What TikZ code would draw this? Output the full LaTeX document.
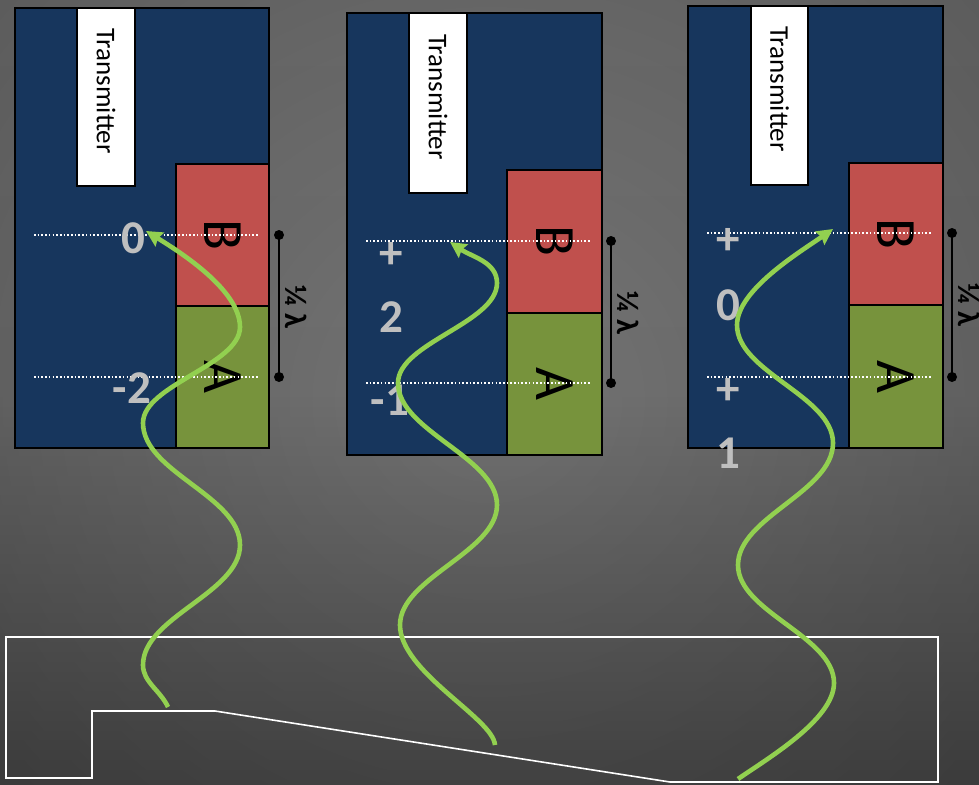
\documentclass[tikz,border=0pt]{standalone}
\usepackage{fontspec}
\setmainfont{Carlito}
\usetikzlibrary{arrows.meta,fadings}
\definecolor{navy}{HTML}{17365D}
\definecolor{boxred}{HTML}{C0504D}
\definecolor{boxgreen}{HTML}{77933C}
\definecolor{wavegreen}{HTML}{92D050}
\definecolor{phasegray}{HTML}{BFBFBF}
\definecolor{bgtop}{HTML}{777777}
\definecolor{bgmid}{HTML}{747474}
\definecolor{bgbot}{HTML}{4C4C4C}
\tikzfading[name=vignette, inner color=transparent!100, outer color=transparent!0]
\tikzset{
  panel/.style={draw=black, line width=1.6pt, fill=navy, inner sep=0pt, outer sep=0pt},
  txbox/.style={draw=black, line width=1.6pt, fill=white, inner sep=0pt, outer sep=0pt},
  bpart/.style={draw=black, line width=1.6pt, fill=boxred, inner sep=0pt, outer sep=0pt},
  apart/.style={draw=black, line width=1.6pt, fill=boxgreen, inner sep=0pt, outer sep=0pt},
  txlabel/.style={rotate=-90, font=\fontsize{27}{30}\selectfont, text=black},
  letter/.style={rotate=-90, font=\fontsize{57}{60}\selectfont, text=black},
  phase/.style={text=phasegray, font=\bfseries\fontsize{47}{50}\selectfont, anchor=base, inner sep=0pt},
  lam/.style={rotate=-90, font=\bfseries\fontsize{31}{33}\selectfont, text=black},
  dotline/.style={white, line width=1.6pt, dash pattern=on 1.6pt off 2.1pt},
  dimline/.style={black, line width=1.6pt},
  enddot/.style={circle, fill=black, inner sep=0pt, minimum size=10pt},
  wave/.style={draw=wavegreen, line width=4.6pt, -{Stealth[length=16pt,width=16pt,inset=2pt]}},
  outline/.style={draw=white, line width=1.6pt}
}
\begin{document}
\begin{tikzpicture}[x=1pt,y=-1pt]
\useasboundingbox (0,0) rectangle (979,784);
% background
\shade[top color=bgtop, bottom color=bgbot, middle color=bgmid] (0,0) rectangle (979,784);
\fill[black, opacity=0.22, path fading=vignette] (-150,-200) rectangle (1129,1000);

% bottom outline
\draw[outline] (6,637) -- (938,637) -- (938,782) -- (670,782) -- (215,711) -- (92,711) -- (92,778) -- (6,778) -- cycle;

% ---------- panel 1 ----------
\node[panel, minimum width=254pt, minimum height=440pt] (p1) at (142,228) {};
\node[txbox, minimum width=58pt, minimum height=178pt] (tx1) at (106,97) {};
\node[txlabel] (tt1) at (106,91) {Transmitter};
\node[bpart, minimum width=93pt, minimum height=142pt] (b1) at (222.5,235) {};
\node[apart, minimum width=93pt, minimum height=142pt] (a1) at (222.5,377) {};
\node[letter] (bl1) at (b1.center) {B};
\node[letter] (al1) at (a1.center) {A};
\coordinate (u1a) at (34,235); \coordinate (u1b) at (258,235);
\coordinate (v1a) at (34,377); \coordinate (v1b) at (258,377);
\draw[dotline] (u1a) -- (u1b);
\draw[dotline] (v1a) -- (v1b);
\node[enddot] (d1t) at (279,235) {};
\node[enddot] (d1b) at (279,377) {};
\draw[dimline] (d1t.center) -- (d1b.center);
\node[lam] (q1) at (296,307) {¼ λ};
\node[phase] (n1a) at (133,253) {0};
\node[phase] (n1b) at (132,403) {-2};

% ---------- panel 2 ----------
\node[panel, minimum width=255pt, minimum height=442pt] (p2) at (474.5,234) {};
\node[txbox, minimum width=58pt, minimum height=180pt] (tx2) at (438,103) {};
\node[txlabel] (tt2) at (438,97) {Transmitter};
\node[bpart, minimum width=95pt, minimum height=143pt] (b2) at (554.5,241.5) {};
\node[apart, minimum width=95pt, minimum height=142pt] (a2) at (554.5,384) {};
\node[letter] (bl2) at (b2.center) {B};
\node[letter] (al2) at (a2.center) {A};
\coordinate (u2a) at (366,241); \coordinate (u2b) at (590,241);
\coordinate (v2a) at (366,383); \coordinate (v2b) at (590,383);
\draw[dotline] (u2a) -- (u2b);
\draw[dotline] (v2a) -- (v2b);
\node[enddot] (d2t) at (611,241) {};
\node[enddot] (d2b) at (611,383) {};
\draw[dimline] (d2t.center) -- (d2b.center);
\node[lam] (q2) at (628,313) {¼ λ};
\node[phase] (n2a) at (391,268) {+};
\node[phase] (n2b) at (391,332) {2};
\node[phase] (n2c) at (390,415) {-1};

% ---------- panel 3 ----------
\node[panel, minimum width=255pt, minimum height=442pt] (p3) at (815.5,227) {};
\node[txbox, minimum width=57pt, minimum height=179pt] (tx3) at (779.5,95.5) {};
\node[txlabel] (tt3) at (779.5,89) {Transmitter};
\node[bpart, minimum width=94pt, minimum height=142pt] (b3) at (896,234) {};
\node[apart, minimum width=94pt, minimum height=143pt] (a3) at (896,376.5) {};
\node[letter] (bl3) at (b3.center) {B};
\node[letter] (al3) at (a3.center) {A};
\coordinate (u3a) at (707,233); \coordinate (u3b) at (932,233);
\coordinate (v3a) at (707,377); \coordinate (v3b) at (932,377);
\draw[dotline] (u3a) -- (u3b);
\draw[dotline] (v3a) -- (v3b);
\node[enddot] (d3t) at (952,233) {};
\node[enddot] (d3b) at (952,377) {};
\draw[dimline] (d3t.center) -- (d3b.center);
\node[lam] (q3) at (969,305) {¼ λ};
\node[phase] (n3a) at (728,254) {+};
\node[phase] (n3b) at (728,320) {0};
\node[phase] (n3c) at (728,404) {+};
\node[phase] (n3d) at (728,468) {1};

% ---------- waves ----------
\coordinate (w1s) at (168,707);
\coordinate (w1e) at (146,231);
\draw[wave] (w1s) .. controls (160,690) and (143,682) .. (143,665)
  .. controls (143,617) and (240,593) .. (240,545)
  .. controls (240,496) and (143,472) .. (143,423)
  .. controls (143,385) and (240,365) .. (240,327)
  .. controls (240,290) and (180,252) .. (w1e);

\coordinate (w2s) at (495,745);
\coordinate (w2e) at (450,242);
\draw[wave] (w2s) .. controls (493,718) and (400,672) .. (400,625)
  .. controls (400,578) and (497,552) .. (497,505)
  .. controls (497,457) and (398,431) .. (398,383)
  .. controls (398,343) and (497,323) .. (497,283)
  .. controls (497,262) and (472,257) .. (w2e);

\coordinate (w3s) at (738,779);
\coordinate (w3e) at (833,229);
\draw[wave] (w3s) .. controls (765,760) and (834,720) .. (834,683)
  .. controls (834,636) and (738,612) .. (738,565)
  .. controls (738,517) and (833,492) .. (833,443)
  .. controls (833,396) and (737,372) .. (737,325)
  .. controls (737,290) and (800,252) .. (w3e);
\end{tikzpicture}
\end{document}
